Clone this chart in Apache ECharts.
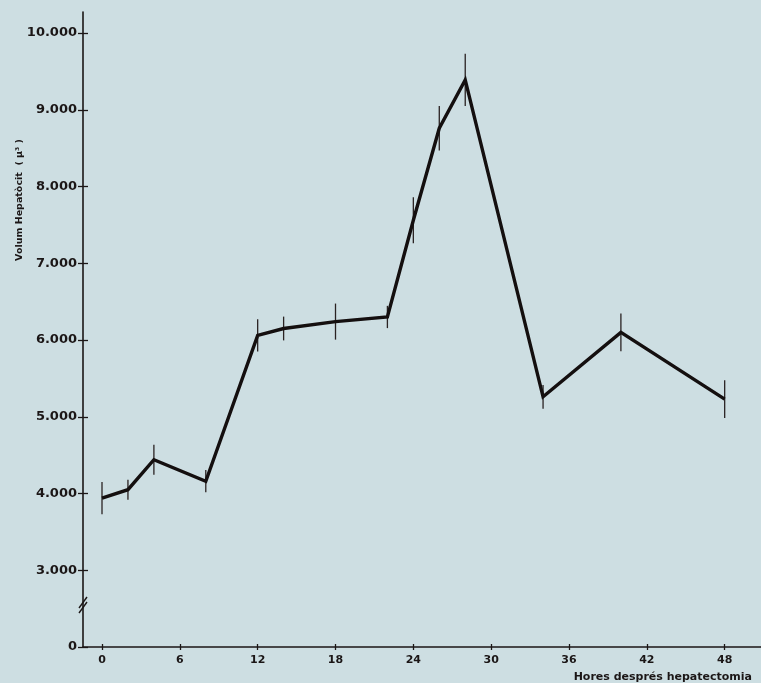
<!DOCTYPE html>
<html>
<head>
<meta charset="utf-8">
<script src="https://cdn.jsdelivr.net/npm/echarts@6/dist/echarts.min.js"></script>
<style>
  html, body { margin: 0; padding: 0; background: #cddee2; }
  #chart { width: 761px; height: 683px; }
</style>
</head>
<body>
<div id="chart"></div>
<script>
// Hours after hepatectomy and mean hepatocyte volume (µ³) with error half-widths
const hours = [0, 2, 4, 8, 12, 14, 18, 22, 24, 26, 28, 34, 40, 48];
const volume = [3940, 4050, 4440, 4160, 6060, 6150, 6240, 6300, 7560, 8760, 9390, 5260, 6100, 5230];
const errorHalf = [210, 130, 195, 145, 210, 155, 235, 145, 300, 290, 340, 155, 245, 245];

// Axis tick positions; the lowest y tick stands for 0 (broken axis)
const xTicks = [0, 6, 12, 18, 24, 30, 36, 42, 48];
const yTicks = [2000, 3000, 4000, 5000, 6000, 7000, 8000, 9000, 10000];
const yZeroAt = 2000;

const ink = '#1b1616';
const fontFamily = '"DejaVu Sans", sans-serif';

function fmtThousands(v) {
  if (v === yZeroAt) return '0';
  const s = String(Math.round(v));
  return s.replace(/\B(?=(\d{3})+(?!\d))/g, '.');
}

const lineData = hours.map((h, i) => [h, volume[i]]);
const errData = hours.map((h, i) => [h, volume[i] - errorHalf[i], volume[i] + errorHalf[i]]);

const chart = echarts.init(document.getElementById('chart'));

const xCommon = {
  type: 'value', min: -1.465, max: 50.8, position: 'bottom',
  splitLine: { show: false }
};
const yCommon = {
  type: 'value', min: yZeroAt, max: 10274, position: 'left',
  splitLine: { show: false }
};

chart.setOption({
  backgroundColor: '#cddee2',
  animation: false,
  grid: { left: 83, right: 0, top: 12, bottom: 36 },
  xAxis: [
    Object.assign({}, xCommon, {
      axisLine: { show: true, onZero: false, lineStyle: { color: ink, width: 1.6 } },
      axisTick: { show: true, length: 3, customValues: xTicks, lineStyle: { color: ink, width: 1.3 } },
      axisLabel: {
        show: true, customValues: xTicks, margin: 8,
        color: ink, fontFamily, fontWeight: 'bold', fontSize: 11
      }
    }),
    Object.assign({}, xCommon, {
      axisLine: { show: false, onZero: false },
      axisTick: { show: true, inside: true, length: 3, customValues: xTicks, lineStyle: { color: ink, width: 1.3 } },
      axisLabel: { show: false }
    })
  ],
  yAxis: [
    Object.assign({}, yCommon, {
      axisLine: { show: true, onZero: false, lineStyle: { color: ink, width: 1.6 } },
      axisTick: { show: true, length: 5, customValues: yTicks, lineStyle: { color: ink, width: 1.3 } },
      axisLabel: {
        show: true, customValues: yTicks, margin: 6,
        color: ink, fontFamily, fontWeight: 'bold', fontSize: 13,
        formatter: v => fmtThousands(v)
      }
    }),
    Object.assign({}, yCommon, {
      axisLine: { show: false, onZero: false },
      axisTick: { show: true, inside: true, length: 5, customValues: yTicks, lineStyle: { color: ink, width: 1.3 } },
      axisLabel: { show: false }
    })
  ],
  series: [
    {
      type: 'custom',
      name: 'error',
      xAxisIndex: 0, yAxisIndex: 0,
      data: errData,
      renderItem: function (params, api) {
        const x = api.value(0);
        const lo = api.coord([x, api.value(1)]);
        const hi = api.coord([x, api.value(2)]);
        return {
          type: 'line',
          shape: { x1: lo[0], y1: lo[1], x2: hi[0], y2: hi[1] },
          style: { stroke: '#2a2222', lineWidth: 1.3 }
        };
      },
      z: 3
    },
    {
      type: 'line',
      name: 'volum',
      xAxisIndex: 0, yAxisIndex: 0,
      data: lineData,
      symbol: 'none',
      lineStyle: { color: '#140f0f', width: 3.4, join: 'miter' },
      z: 4
    }
  ],
  graphic: [
    // axis break mark on the y axis
    { type: 'line', shape: { x1: 79, y1: 608, x2: 87, y2: 597 }, style: { stroke: ink, lineWidth: 1.4 }, z: 10 },
    { type: 'line', shape: { x1: 79, y1: 613, x2: 87, y2: 602 }, style: { stroke: ink, lineWidth: 1.4 }, z: 10 },
    // y axis title
    {
      type: 'text', x: 20, y: 200, rotation: Math.PI / 2,
      style: {
        text: 'Volum Hepatòcit  ( μ³ )', fill: ink,
        font: 'bold 9.5px "DejaVu Sans", sans-serif',
        align: 'center', verticalAlign: 'middle'
      }
    },
    // x axis title
    {
      type: 'text', x: 752, y: 677,
      style: {
        text: 'Hores després hepatectomia', fill: ink,
        font: 'bold 11px "DejaVu Sans", sans-serif',
        align: 'right', verticalAlign: 'middle'
      }
    }
  ]
});
</script>
</body>
</html>
